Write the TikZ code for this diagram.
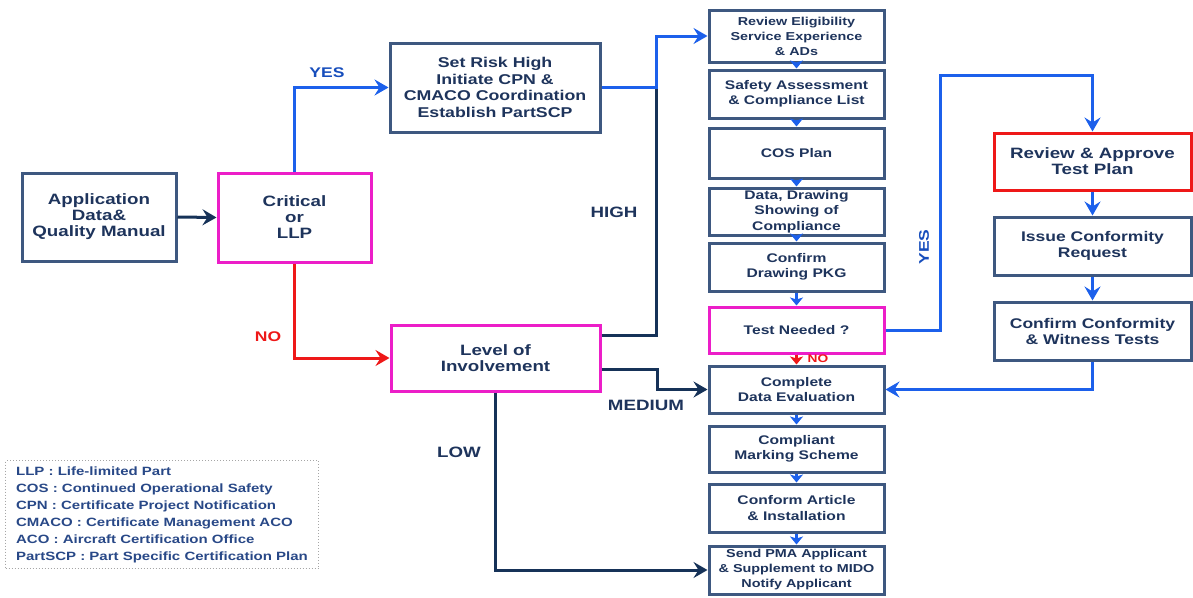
\documentclass[tikz,border=0pt]{standalone}
\usepackage{fontspec}
\setmainfont{Liberation Sans}[FakeStretch=1.25]
\usetikzlibrary{arrows.meta,calc}
\definecolor{boxc}{RGB}{62,88,128}
\definecolor{txtc}{RGB}{30,52,92}
\definecolor{bluel}{RGB}{28,96,235}
\definecolor{magc}{RGB}{236,30,200}
\definecolor{redc}{RGB}{238,24,24}
\definecolor{navyl}{RGB}{22,50,88}
\definecolor{legc}{RGB}{40,72,135}
\begin{document}
\begin{tikzpicture}[x=1pt,y=-1pt,
  box/.style={draw=boxc, line width=3pt, fill=white, align=center, text=txtc, inner sep=0pt},
  mainf/.style={font=\fontsize{15}{16}\selectfont\bfseries},
  riskf/.style={font=\fontsize{14.2}{16.5}\selectfont\bfseries},
  colf/.style={font=\fontsize{12.5}{15.5}\selectfont\bfseries},
  smallf/.style={font=\fontsize{11.5}{15}\selectfont\bfseries},
  rightf/.style={font=\fontsize{14}{16}\selectfont\bfseries},
  colbox/.style={box, colf, minimum width=175},
  rbox/.style={box, rightf, minimum width=197},
  bigarrow/.style={line width=3pt, -{Stealth[length=14pt,width=16pt,inset=5pt]}},
  smallarrow/.style={line width=2.5pt, bluel, -{Stealth[length=8pt,width=13pt,inset=2pt]}},
  lbl/.style={font=\fontsize{15}{16}\selectfont\bfseries, text=txtc, inner sep=0pt},
]
\useasboundingbox (0,0) rectangle (1193,597);

% left boxes
\node[box, mainf, minimum width=154, minimum height=88] (app) at (99,217) {Application\\Data\&\\Quality Manual};
\node[box, draw=magc, mainf, minimum width=153, minimum height=89] (crit) at (294.5,217.5) {Critical\\or\\LLP};
\node[box, riskf, minimum width=210, minimum height=89] (risk) at (495,87.5) {Set Risk High\\Initiate CPN \&\\CMACO Coordination\\Establish PartSCP};
\node[box, draw=magc, mainf, minimum width=209, minimum height=66] (level) at (495.5,358) {Level of\\Involvement};

% middle column
\node[colbox, smallf, minimum height=52] (c1) at (796.5,36) {Review Eligibility\\Service Experience\\\& ADs};
\node[colbox, minimum height=48] (c2) at (796.5,94) {Safety Assessment\\\& Compliance List};
\node[colbox, minimum height=50] (c3) at (796.5,153) {COS Plan};
\node[colbox, minimum height=47] (c4) at (796.5,211.5) {Data, Drawing\\Showing of\\Compliance};
\node[colbox, minimum height=48] (c5) at (796.5,267) {Confirm\\Drawing PKG};
\node[colbox, draw=magc, minimum height=46] (test) at (796.5,330) {Test Needed ?};
\node[colbox, minimum height=47] (complete) at (796.5,389.5) {Complete\\Data Evaluation};
\node[colbox, minimum height=46] (compliant) at (796.5,449) {Compliant\\Marking Scheme};
\node[colbox, minimum height=48] (conform) at (796.5,508) {Conform Article\\\& Installation};
\node[colbox, smallf, minimum height=48] (send) at (796.5,570) {Send PMA Applicant\\\& Supplement to MIDO\\Notify Applicant};

% right column
\node[rbox, draw=redc, font=\fontsize{15}{16}\selectfont\bfseries, minimum height=57] (review) at (1092.5,161.5) {Review \& Approve\\Test Plan};
\node[rbox, minimum height=58] (issue) at (1092.5,246) {Issue Conformity\\Request};
\node[rbox, minimum height=58] (confc) at (1092.5,331) {Confirm Conformity\\\& Witness Tests};

% legend
\node[draw=gray!70, dotted, line width=1pt, anchor=north west, minimum width=313, minimum height=108,
      align=left, text=legc, font=\fontsize{12}{17}\selectfont\bfseries, inner sep=0pt] (legend) at (5,460)
  {LLP : Life-limited Part\\COS : Continued Operational Safety\\CPN : Certificate Project Notification\\CMACO : Certificate Management ACO\\ACO : Aircraft Certification Office\\PartSCP : Part Specific Certification Plan};

% connectors
\draw[bigarrow, navyl] (app.east) -- (crit.west);
\draw[bigarrow, bluel] (crit.north) |- (risk.west);
\draw[bigarrow, redc] (crit.south) |- (level.west);
\coordinate (hj) at ($(risk.east)+(55,0)$);
\draw[line width=3pt, navyl] ($(level.east)+(0,-23)$) -| (hj);
\draw[bigarrow, bluel] (risk.east) -- (hj) |- (c1.west);
\draw[bigarrow, navyl] ($(level.east)+(0,11)$) -- ++(56,0) |- (complete.west);
\draw[bigarrow, navyl] (level.south) |- (send.west);

\draw[smallarrow] (c1.south) -- (c2.north);
\draw[smallarrow] (c2.south) -- (c3.north);
\draw[smallarrow] (c3.south) -- (c4.north);
\draw[smallarrow] (c4.south) -- (c5.north);
\draw[smallarrow] (c5.south) -- (test.north);
\draw[smallarrow, redc] (test.south) -- (complete.north);
\draw[smallarrow] (complete.south) -- (compliant.north);
\draw[smallarrow] (compliant.south) -- (conform.north);
\draw[smallarrow] (conform.south) -- (send.north);

\draw[bigarrow, bluel] (test.east) -- ++(55,0) |- ($(review.north)+(0,-56)$) -- (review.north);
\draw[bigarrow, bluel] (review.south) -- (issue.north);
\draw[bigarrow, bluel] (issue.south) -- (confc.north);
\draw[bigarrow, bluel] (confc.south) |- (complete.east);

% labels
\node[lbl, text=bluel!80!black, font=\fontsize{14}{16}\selectfont\bfseries] (yes1) at (327,73) {YES};
\node[lbl, text=redc, font=\fontsize{14}{16}\selectfont\bfseries] (no1) at (268,337) {NO};
\node[lbl] (high) at (614,212) {HIGH};
\node[lbl] (medium) at (646,405) {MEDIUM};
\node[lbl] (low) at (459,452) {LOW};
\node[lbl, text=bluel!80!black, font=\fontsize{14}{16}\selectfont\bfseries, rotate=90] (yes2) at (924,247) {YES};
\node[lbl, text=redc, font=\fontsize{11}{12}\selectfont\bfseries] (no2) at (818,359) {NO};
\end{tikzpicture}
\end{document}
